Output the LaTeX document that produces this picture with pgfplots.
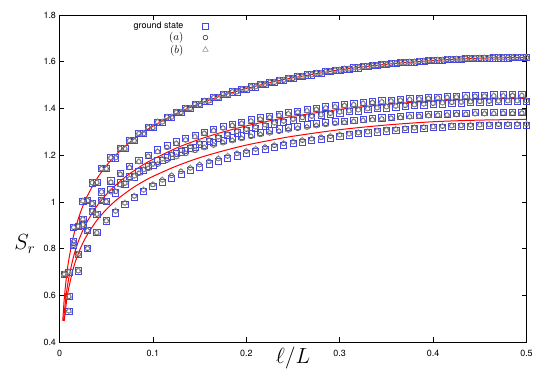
\documentclass[border=0pt]{standalone}
\usepackage{fix-cm}
\usepackage[no-math]{fontspec}
\setmainfont{TeX Gyre Heros}
\usepackage{pgfplots}
\pgfplotsset{compat=1.18}
\definecolor{sqblue}{RGB}{70,70,235}
\definecolor{circgray}{RGB}{50,50,50}
\definecolor{trigray}{RGB}{150,150,150}

% upper family: entropy rises in pairs (l odd, l+1)
\pgfplotstableread{
x y
0.005 0.690
0.010 0.700
0.015 0.891
0.020 0.895
0.025 1.004
0.030 1.006
0.035 1.082
0.040 1.083
0.045 1.142
0.050 1.142
0.055 1.189
0.060 1.189
0.065 1.228
0.070 1.228
0.075 1.262
0.080 1.262
0.085 1.292
0.090 1.292
0.095 1.318
0.100 1.318
0.105 1.342
0.110 1.342
0.115 1.363
0.120 1.363
0.125 1.383
0.130 1.383
0.135 1.400
0.140 1.400
0.145 1.417
0.150 1.417
0.155 1.432
0.160 1.432
0.165 1.446
0.170 1.446
0.175 1.459
0.180 1.459
0.185 1.471
0.190 1.471
0.195 1.482
0.200 1.482
0.205 1.493
0.210 1.493
0.215 1.503
0.220 1.503
0.225 1.512
0.230 1.512
0.235 1.521
0.240 1.521
0.245 1.529
0.250 1.529
0.255 1.537
0.260 1.537
0.265 1.544
0.270 1.544
0.275 1.551
0.280 1.551
0.285 1.558
0.290 1.558
0.295 1.564
0.300 1.564
0.305 1.569
0.310 1.569
0.315 1.574
0.320 1.574
0.325 1.579
0.330 1.579
0.335 1.584
0.340 1.584
0.345 1.588
0.350 1.588
0.355 1.592
0.360 1.592
0.365 1.596
0.370 1.596
0.375 1.599
0.380 1.599
0.385 1.602
0.390 1.602
0.395 1.605
0.400 1.605
0.405 1.607
0.410 1.607
0.415 1.610
0.420 1.610
0.425 1.611
0.430 1.611
0.435 1.613
0.440 1.613
0.445 1.615
0.450 1.615
0.455 1.616
0.460 1.616
0.465 1.617
0.470 1.617
0.475 1.617
0.480 1.617
0.485 1.618
0.490 1.618
0.495 1.618
0.500 1.618
}\topgroup

% middle family: odd/even oscillation; c = states (a),(b), s = ground state
\pgfplotstableread{
x c s
0.005 0.690 0.690
0.010 0.595 0.595
0.015 0.829 0.829
0.020 0.776 0.776
0.025 0.926 0.926
0.030 0.877 0.877
0.035 0.993 0.993
0.040 0.947 0.947
0.045 1.043 1.043
0.050 1.001 1.001
0.055 1.084 1.090
0.060 1.044 1.039
0.065 1.118 1.123
0.070 1.080 1.075
0.075 1.147 1.152
0.080 1.111 1.107
0.085 1.172 1.177
0.090 1.138 1.134
0.095 1.195 1.200
0.100 1.162 1.158
0.105 1.215 1.223
0.110 1.184 1.177
0.115 1.233 1.241
0.120 1.203 1.197
0.125 1.250 1.257
0.130 1.221 1.214
0.135 1.265 1.272
0.140 1.237 1.231
0.145 1.279 1.286
0.150 1.252 1.246
0.155 1.293 1.299
0.160 1.265 1.260
0.165 1.305 1.311
0.170 1.278 1.273
0.175 1.316 1.322
0.180 1.290 1.285
0.185 1.327 1.332
0.190 1.301 1.296
0.195 1.336 1.342
0.200 1.311 1.306
0.205 1.346 1.351
0.210 1.321 1.316
0.215 1.354 1.360
0.220 1.330 1.325
0.225 1.362 1.368
0.230 1.338 1.334
0.235 1.370 1.375
0.240 1.346 1.342
0.245 1.377 1.382
0.250 1.354 1.349
0.255 1.384 1.389
0.260 1.361 1.357
0.265 1.390 1.395
0.270 1.367 1.363
0.275 1.396 1.401
0.280 1.373 1.369
0.285 1.402 1.407
0.290 1.379 1.375
0.295 1.407 1.412
0.300 1.385 1.381
0.305 1.412 1.416
0.310 1.390 1.386
0.315 1.416 1.421
0.320 1.394 1.390
0.325 1.421 1.425
0.330 1.399 1.395
0.335 1.425 1.429
0.340 1.403 1.399
0.345 1.428 1.433
0.350 1.407 1.403
0.355 1.432 1.436
0.360 1.410 1.407
0.365 1.435 1.439
0.370 1.413 1.410
0.375 1.438 1.442
0.380 1.416 1.413
0.385 1.441 1.445
0.390 1.419 1.415
0.395 1.443 1.447
0.400 1.422 1.418
0.405 1.445 1.449
0.410 1.424 1.420
0.415 1.447 1.451
0.420 1.426 1.422
0.425 1.449 1.453
0.430 1.427 1.424
0.435 1.450 1.455
0.440 1.429 1.425
0.445 1.452 1.456
0.450 1.430 1.427
0.455 1.453 1.457
0.460 1.431 1.428
0.465 1.454 1.458
0.470 1.432 1.429
0.475 1.454 1.459
0.480 1.433 1.429
0.485 1.455 1.459
0.490 1.433 1.429
0.495 1.455 1.459
0.500 1.433 1.430
}\midgroup

% lower family: stronger odd/even oscillation
\pgfplotstableread{
x c s
0.005 0.690 0.690
0.010 0.533 0.533
0.015 0.814 0.814
0.020 0.705 0.705
0.025 0.902 0.902
0.030 0.801 0.801
0.035 0.961 0.961
0.040 0.868 0.868
0.045 1.006 1.006
0.050 0.919 0.919
0.055 1.043 1.053
0.060 0.961 0.953
0.065 1.073 1.082
0.070 0.995 0.988
0.075 1.099 1.108
0.080 1.025 1.018
0.085 1.122 1.130
0.090 1.051 1.045
0.095 1.143 1.151
0.100 1.074 1.068
0.105 1.161 1.176
0.110 1.094 1.083
0.115 1.178 1.192
0.120 1.113 1.102
0.125 1.193 1.207
0.130 1.130 1.119
0.135 1.207 1.220
0.140 1.145 1.135
0.145 1.220 1.233
0.150 1.159 1.149
0.155 1.232 1.244
0.160 1.173 1.163
0.165 1.243 1.255
0.170 1.185 1.175
0.175 1.253 1.265
0.180 1.196 1.187
0.185 1.262 1.274
0.190 1.207 1.197
0.195 1.271 1.283
0.200 1.217 1.207
0.205 1.280 1.291
0.210 1.226 1.217
0.215 1.288 1.299
0.220 1.234 1.226
0.225 1.295 1.306
0.230 1.242 1.234
0.235 1.302 1.313
0.240 1.250 1.242
0.245 1.308 1.319
0.250 1.257 1.249
0.255 1.315 1.325
0.260 1.264 1.256
0.265 1.320 1.331
0.270 1.270 1.262
0.275 1.326 1.336
0.280 1.276 1.268
0.285 1.331 1.341
0.290 1.281 1.273
0.295 1.336 1.346
0.300 1.287 1.279
0.305 1.340 1.345
0.310 1.291 1.287
0.315 1.344 1.349
0.320 1.296 1.292
0.325 1.348 1.353
0.330 1.300 1.296
0.335 1.352 1.357
0.340 1.304 1.300
0.345 1.355 1.360
0.350 1.308 1.304
0.355 1.358 1.363
0.360 1.311 1.307
0.365 1.361 1.366
0.370 1.314 1.310
0.375 1.364 1.369
0.380 1.317 1.313
0.385 1.366 1.371
0.390 1.319 1.315
0.395 1.369 1.374
0.400 1.322 1.318
0.405 1.371 1.376
0.410 1.324 1.320
0.415 1.372 1.377
0.420 1.326 1.322
0.425 1.374 1.379
0.430 1.327 1.323
0.435 1.375 1.380
0.440 1.329 1.325
0.445 1.377 1.382
0.450 1.330 1.326
0.455 1.377 1.382
0.460 1.331 1.327
0.465 1.378 1.383
0.470 1.332 1.328
0.475 1.379 1.384
0.480 1.332 1.328
0.485 1.379 1.384
0.490 1.333 1.329
0.495 1.380 1.385
0.500 1.333 1.329
}\lowgroup

\pgfplotsset{
  gsmark/.style={only marks,mark=square,mark size=3.1bp,color=sqblue,
    mark options={draw=sqblue,fill=none,line width=0.6bp}},
  amark/.style={only marks,mark=o,mark size=2.3bp,color=circgray,
    mark options={draw=circgray,fill=none,line width=0.6bp}},
  bmark/.style={only marks,mark=triangle,mark size=3.2bp,color=trigray,
    mark options={draw=trigray,fill=none,line width=0.6bp}},
  fitline/.style={red,line width=1bp,smooth,forget plot},
}

\begin{document}
\begin{tikzpicture}
\begin{axis}[
  scale only axis,
  width=467bp, height=327bp,
  xmin=0, xmax=0.5, ymin=0.4, ymax=1.8,
  xtick={0,0.1,0.2,0.3,0.4,0.5},
  ytick={0.4,0.6,0.8,1,1.2,1.4,1.6,1.8},
  tick align=inside,
  major tick length=5bp,
  tick style={black,line width=0.6bp},
  axis line style={black,line width=0.8bp},
  /pgf/number format/assume math mode=true,
  ticklabel style={font=\fontsize{9}{10}\selectfont},
  xticklabel style={yshift=-5bp},
  xlabel={$\ell/L$},
  xlabel style={font=\fontsize{22}{26}\selectfont,at={(axis description cs:0.5,-0.05)},anchor=center},
  ylabel={$S_r$},
  ylabel style={font=\fontsize{22}{26}\selectfont,rotate=-90,at={(axis description cs:-0.074,0.30)},anchor=center},
  clip=false,
  legend plot pos=right,
  legend cell align=right,
  legend style={draw=none,fill=none,font=\fontsize{9}{10}\selectfont,
    at={(axis cs:0.163,1.787)},anchor=north east,row sep=-1.5bp,column sep=17bp},
]
\addlegendimage{gsmark}
\addlegendentry{ground state}
\addlegendimage{amark}
\addlegendentry{\fontsize{11}{12}\selectfont$(a)$}
\addlegendimage{bmark}
\addlegendentry{\fontsize{11}{12}\selectfont$(b)$}
% ground state
\addplot[gsmark,forget plot] table[x=x,y=y]{\topgroup};
\addplot[gsmark,forget plot] table[x=x,y=s]{\midgroup};
\addplot[gsmark,forget plot] table[x=x,y=s]{\lowgroup};
% state (a)
\addplot[amark,forget plot] table[x=x,y=y]{\topgroup};
\addplot[amark,forget plot] table[x=x,y=c]{\midgroup};
\addplot[amark,forget plot] table[x=x,y=c]{\lowgroup};
% state (b)
\addplot[bmark,forget plot] table[x=x,y=y]{\topgroup};
\addplot[bmark,forget plot] table[x=x,y=c]{\midgroup};
\addplot[bmark,forget plot] table[x=x,y=c]{\lowgroup};
% CFT fits
\addplot[fitline] coordinates {
(0.0035,0.490) (0.005,0.580) (0.0075,0.681) (0.01,0.753) (0.015,0.854) (0.02,0.926)
(0.025,0.982) (0.03,1.027) (0.04,1.099) (0.05,1.154) (0.06,1.199) (0.07,1.237)
(0.08,1.270) (0.09,1.299) (0.10,1.324) (0.125,1.378) (0.15,1.421) (0.175,1.456)
(0.2,1.485) (0.225,1.510) (0.25,1.531) (0.3,1.565) (0.35,1.589) (0.4,1.605)
(0.45,1.615) (0.5,1.618)};
\addplot[fitline] coordinates {
(0.00435,0.490) (0.005,0.521) (0.0075,0.611) (0.01,0.675) (0.015,0.765) (0.02,0.829)
(0.025,0.878) (0.03,0.918) (0.04,0.982) (0.05,1.031) (0.06,1.071) (0.07,1.105)
(0.08,1.134) (0.09,1.160) (0.10,1.182) (0.125,1.230) (0.15,1.268) (0.175,1.299)
(0.2,1.325) (0.225,1.347) (0.25,1.366) (0.3,1.396) (0.35,1.417) (0.4,1.432)
(0.45,1.440) (0.5,1.443)};
\addplot[fitline] coordinates {
(0.00503,0.490) (0.0075,0.573) (0.01,0.633) (0.015,0.718) (0.02,0.777)
(0.025,0.824) (0.03,0.861) (0.04,0.921) (0.05,0.967) (0.06,1.005) (0.07,1.036)
(0.08,1.064) (0.09,1.088) (0.10,1.109) (0.125,1.153) (0.15,1.189) (0.175,1.218)
(0.2,1.243) (0.225,1.263) (0.25,1.281) (0.3,1.309) (0.35,1.329) (0.4,1.343)
(0.45,1.350) (0.5,1.353)};
\coordinate (sw) at (rel axis cs:0,0);
\coordinate (ne) at (rel axis cs:1,1);
\end{axis}
\pgfresetboundingbox
\path[use as bounding box] (sw) ++(-59.5bp,-40bp) rectangle ([shift={(18.5bp,15bp)}]ne);
\end{tikzpicture}
\end{document}
